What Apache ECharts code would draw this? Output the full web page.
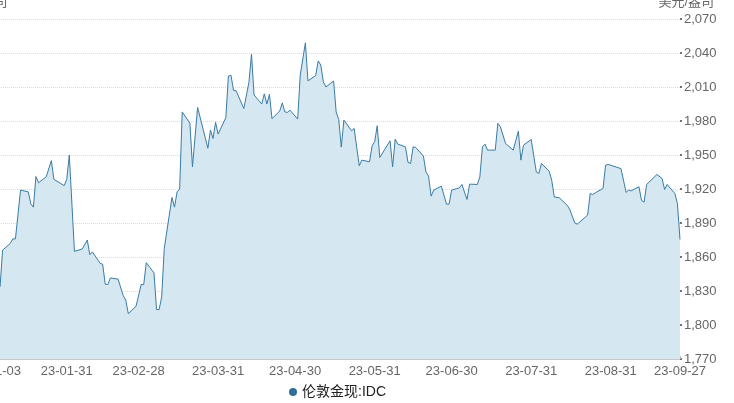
<!DOCTYPE html>
<html>
<head>
<meta charset="utf-8">
<script src="https://cdn.jsdelivr.net/npm/echarts@6/dist/echarts.min.js"></script>
<style>
html,body{margin:0;padding:0;background:#fff;}
#c{width:734px;height:403px;}
</style>
</head>
<body>
<div id="c"></div>
<script>
const seriesName = '伦敦金现:IDC';
const unitName = '美元/盎司';
const dates = [
'2023-01-05','2023-01-06','2023-01-09','2023-01-10','2023-01-11','2023-01-13','2023-01-16','2023-01-17','2023-01-18','2023-01-19','2023-01-20',
'2023-01-23','2023-01-25','2023-01-26','2023-01-30','2023-01-31','2023-02-01','2023-02-03','2023-02-06','2023-02-08','2023-02-09','2023-02-10',
'2023-02-13','2023-02-14','2023-02-15','2023-02-16','2023-02-17','2023-02-20','2023-02-22','2023-02-23','2023-02-24','2023-02-27',
'2023-03-01','2023-03-02','2023-03-03','2023-03-06','2023-03-07','2023-03-08','2023-03-09','2023-03-10','2023-03-13','2023-03-14','2023-03-15',
'2023-03-16','2023-03-17','2023-03-20','2023-03-21','2023-03-23','2023-03-27','2023-03-28','2023-03-29','2023-03-30','2023-03-31',
'2023-04-03','2023-04-04','2023-04-05','2023-04-06','2023-04-07','2023-04-10','2023-04-12','2023-04-13','2023-04-14','2023-04-17','2023-04-18',
'2023-04-19','2023-04-20','2023-04-21','2023-04-24','2023-04-25','2023-04-26','2023-04-27','2023-04-28',
'2023-05-01','2023-05-02','2023-05-04','2023-05-05','2023-05-08','2023-05-09','2023-05-10','2023-05-11','2023-05-12','2023-05-15','2023-05-16',
'2023-05-17','2023-05-18','2023-05-19','2023-05-22','2023-05-23','2023-05-25','2023-05-26','2023-05-29','2023-05-30','2023-05-31',
'2023-06-01','2023-06-02','2023-06-06','2023-06-07','2023-06-08','2023-06-09','2023-06-12','2023-06-13','2023-06-14','2023-06-15','2023-06-16',
'2023-06-19','2023-06-20','2023-06-21','2023-06-22','2023-06-23','2023-06-26','2023-06-28','2023-06-29','2023-06-30',
'2023-07-03','2023-07-04','2023-07-06','2023-07-07','2023-07-10','2023-07-11','2023-07-12','2023-07-13','2023-07-14','2023-07-17','2023-07-18',
'2023-07-19','2023-07-21','2023-07-24','2023-07-26','2023-07-27','2023-07-28','2023-07-31',
'2023-08-02','2023-08-03','2023-08-04','2023-08-07','2023-08-08','2023-08-09','2023-08-11','2023-08-14','2023-08-15','2023-08-17','2023-08-18',
'2023-08-22','2023-08-23','2023-08-24','2023-08-25','2023-08-28','2023-08-29','2023-08-30',
'2023-09-04','2023-09-06','2023-09-07','2023-09-08','2023-09-11','2023-09-12','2023-09-13','2023-09-14','2023-09-18','2023-09-20','2023-09-21',
'2023-09-22','2023-09-25','2023-09-26','2023-09-27'
];
const prices = [
1833.6,1866,1872,1876,1876,1919,1917.5,1907,1904,1931,1925.5,
1930.7,1945,1928.5,1923,1928.5,1950,1865,1867,1875,1862,1864.5,
1854.5,1853.6,1836,1835.7,1841.5,1840.5,1826,1822,1810,1816.5,
1835.7,1835.7,1855,1846,1813.6,1813.6,1824.8,1867.5,1912.5,1904,1917.5,
1920,1988,1978,1939.6,1992,1956,1972,1964.6,1978.8,1968.5,
1983,2019.7,2020.3,2007,2006.7,1991,2014,2039,2003,1995,2004,
1995,2003.5,1982,1988.8,1996,1988,1987.6,1989.6,
1981.7,2020.6,2049,2015.5,2020,2033,2029.4,2014.6,2010,2015.3,1988,
1981.4,1957,1980.8,1971.4,1973.5,1940.5,1945.5,1944,1958,1961.7,
1975.8,1947.8,1962.5,1939.6,1964,1959.6,1957.2,1943.5,1942.5,1957.2,1956.7,
1949,1935,1931.4,1913.7,1919,1922.5,1906.6,1906.6,1919,
1921,1924,1910.8,1924.3,1924,1930.7,1957.2,1959.6,1954.3,1954.3,1978,
1975,1960.2,1954.3,1971,1945.5,1958.7,1963.7,
1935,1933.7,1942.5,1935.8,1927.8,1913,1912.2,1905.7,1902.2,1890,1889,
1897,1916,1915.2,1916.6,1920.5,1941,1941.7,
1938,1917,1919,1918.4,1922,1910,1908.4,1924,1932.8,1929.3,1919.6,
1924,1916,1907.2,1875.4
];
const xTickDates = ['2023-01-03','2023-01-31','2023-02-28','2023-03-31','2023-04-30','2023-05-31','2023-06-30','2023-07-31','2023-08-31','2023-09-27'];
const yMin = 1770, yMax = 2070, yStep = 30;

function ts(s){ const p = s.split('-').map(Number); return Date.UTC(p[0], p[1]-1, p[2]); }
function pad(n){ return (n<10?'0':'')+n; }
function fmtDate(v){ const d = new Date(v); return String(d.getUTCFullYear()).slice(2)+'-'+pad(d.getUTCMonth()+1)+'-'+pad(d.getUTCDate()); }

const data = dates.map((d,i)=>[ts(d), prices[i]]);
const tickVals = xTickDates.map(ts);
const FONT = 'Helvetica, Arial, "Liberation Sans", "Noto Sans CJK SC", sans-serif';

const chart = echarts.init(document.getElementById('c'), null, {renderer:'canvas'});
chart.setOption({
  animation:false,
  backgroundColor:'#ffffff',
  textStyle:{fontFamily:FONT},
  title:[
    {text:unitName, right:15, top:-9, textStyle:{fontSize:13, fontWeight:'normal', color:'#666', fontFamily:FONT}},
    {text:unitName, left:-53, top:-9, textStyle:{fontSize:13, fontWeight:'normal', color:'#666', fontFamily:FONT}}
  ],
  legend:{
    data:[seriesName], left:284, top:380, icon:'circle', itemWidth:8, itemHeight:8,
    textStyle:{fontSize:14, color:'#222', fontFamily:FONT}
  },
  grid:{left:-5.1, right:54, top:19, bottom:44, containLabel:false, outerBoundsMode:'none'},
  xAxis:{
    type:'value',
    min:tickVals[0], max:tickVals[tickVals.length-1],
    axisLine:{show:true, lineStyle:{color:'#c8c8c8', width:2}},
    axisTick:{show:true, inside:true, length:3, lineStyle:{color:'#bbb'}, customValues:tickVals},
    axisLabel:{customValues:tickVals, formatter:fmtDate, color:'#666', fontSize:13, margin:6, fontFamily:FONT},
    splitLine:{show:false}
  },
  yAxis:{
    type:'value', position:'right', min:yMin, max:yMax, interval:yStep,
    axisLine:{show:false},
    axisTick:{show:true, length:2, lineStyle:{color:'#444', width:1.5}},
    axisLabel:{color:'#666', fontSize:13, margin:4, fontFamily:FONT,
      formatter:function(v){ return v.toLocaleString('en-US'); }},
    splitLine:{show:true, lineStyle:{color:'#d8d8d8', type:'dotted', width:1}}
  },
  series:[{
    name:seriesName, type:'line', data:data, symbol:'none', smooth:false,
    lineStyle:{color:'#3b7ba3', width:1},
    itemStyle:{color:'#2f6f9a'},
    areaStyle:{color:'#d5e7f0', opacity:1},
    z:2
  }]
});
</script>
</body>
</html>
